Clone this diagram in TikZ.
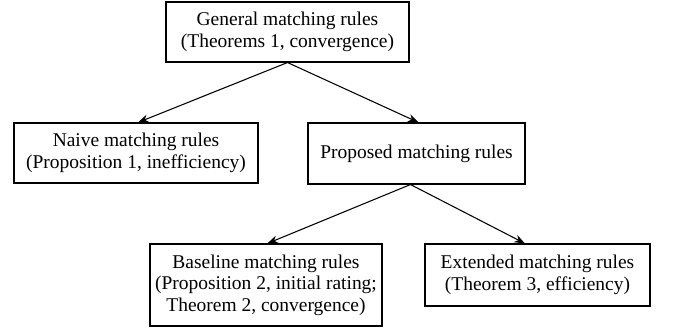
\documentclass[tikz,border=0pt]{standalone}
\usepackage{fontspec}
\setmainfont{Liberation Serif}
\usetikzlibrary{arrows.meta}
\begin{document}
\begin{tikzpicture}[x=0.75pt,y=-0.75pt,
  box/.style={draw,line width=0.8pt,rectangle,align=center,inner sep=0pt,
    font=\fontsize{14.6pt}{16.2pt}\selectfont},
  conn/.style={line width=0.8pt,-{Stealth[length=8pt,width=6pt]}}]
\useasboundingbox (0,0) rectangle (700,333);
\node[box,minimum width=182.25pt,minimum height=45pt] (gen) at (287.5,32) {General matching rules\\(Theorems 1, convergence)};
\node[box,minimum width=183pt,minimum height=45pt] (naive) at (136,153) {Naive matching rules\\(Proposition 1, inefficiency)};
\node[box,minimum width=162.75pt,minimum height=45.75pt] (prop) at (416.5,153.5) {Proposed matching rules};
\node[box,minimum width=174pt,minimum height=61.5pt] (base) at (266,285) {Baseline matching rules\\(Proposition 2, initial rating;\\Theorem 2, convergence)};
\node[box,minimum width=168.75pt,minimum height=46.5pt] (ext) at (537.5,275) {Extended matching rules\\(Theorem 3, efficiency)};
\draw[conn] (gen.south) -- ([xshift=1.5pt]naive.north);
\draw[conn] (gen.south) -- ([xshift=1.5pt]prop.north);
\draw[conn] ([xshift=-4.5pt]prop.south) -- ([xshift=1pt]base.north);
\draw[conn] ([xshift=-4.5pt]prop.south) -- ([xshift=-9.4pt]ext.north);
\end{tikzpicture}
\end{document}
